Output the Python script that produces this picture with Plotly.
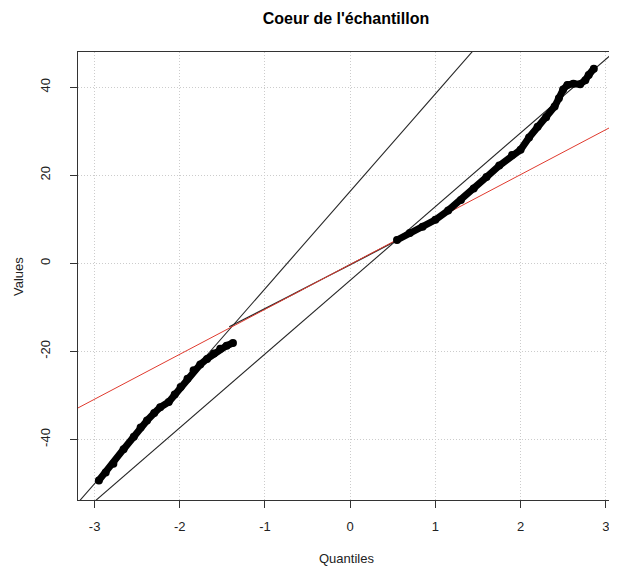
import plotly.graph_objects as go

# --- data ---
lower_q = [-2.95, -2.87, -2.78, -2.66, -2.54, -2.46, -2.385, -2.30, -2.23, -2.13,
           -2.06, -1.99, -1.91, -1.838, -1.76, -1.68, -1.60, -1.525, -1.45, -1.376]
lower_v = [-49.3, -47.5, -45.5, -42.2, -39.4, -37.3, -35.7, -34.0, -32.7, -31.5,
           -29.8, -28.1, -26.2, -24.3, -23.0, -21.7, -20.5, -19.4, -18.7, -18.1]

upper_q = [0.55, 0.70, 0.85, 1.00, 1.15, 1.30, 1.45, 1.60, 1.75, 1.90, 2.00, 2.10,
           2.20, 2.30, 2.40, 2.45, 2.50, 2.55, 2.62, 2.70, 2.76, 2.80, 2.86]
upper_v = [5.3, 6.9, 8.3, 9.9, 12.0, 14.4, 17.0, 19.6, 22.2, 24.6, 25.8, 28.6,
           31.0, 33.2, 35.6, 37.5, 39.5, 40.5, 40.8, 40.7, 41.6, 42.8, 44.2]

middle_q = [-1.42, -1.0, -0.6, -0.2, 0.2, 0.55]
middle_v = [-14.4, -10.3, -6.3, -2.3, 1.7, 5.2]

# reference lines: (intercept, slope)
line_lower = (16.36, 22.13)
line_upper = (-3.86, 16.74)
line_red = (-0.25, 10.2)

x_range = [-3.195, 3.097]
y_range = [-53.75, 48.0]
x_ticks = [-3, -2, -1, 0, 1, 2, 3]
y_ticks = [-40, -20, 0, 20, 40]

title_text = "Coeur de l'échantillon"
x_title = "Quantiles"
y_title = "Values"

# the page body adds an 8px margin; size the figure to fill the remaining window
W, H = 609, 563


def abline(ab):
    a, b = ab
    xs = [x_range[0] - 1, x_range[1] + 1]
    return xs, [a + b * x for x in xs]


fig = go.Figure()

for ab in (line_lower, line_upper):
    xs, ys = abline(ab)
    fig.add_trace(go.Scatter(x=xs, y=ys, mode="lines",
                             line=dict(color="#262626", width=1.1), hoverinfo="skip"))

fig.add_trace(go.Scatter(x=middle_q, y=middle_v, mode="lines",
                         line=dict(color="#2a2a2a", width=1.3, shape="spline"),
                         hoverinfo="skip"))

xs, ys = abline(line_red)
fig.add_trace(go.Scatter(x=xs, y=ys, mode="lines",
                         line=dict(color="#e03a2e", width=1), hoverinfo="skip"))

for q, v in ((lower_q, lower_v), (upper_q, upper_v)):
    fig.add_trace(go.Scatter(x=q, y=v, mode="lines+markers",
                             line=dict(color="black", width=7),
                             marker=dict(color="black", size=8)))

font = "Liberation Sans, Arial, Helvetica, sans-serif"

fig.update_layout(
    width=W, height=H,
    margin=dict(l=70, r=3, t=44, b=71),
    paper_bgcolor="white", plot_bgcolor="white",
    showlegend=False,
    font=dict(family=font, size=13, color="#222222"),
    title=dict(text="<b>" + title_text + "</b>", x=338 / W, xanchor="center",
               xref="container", yref="container", y=1 - 10 / H, yanchor="middle",
               font=dict(size=16, color="black", family=font)),
    annotations=[
        dict(text=x_title, xref="paper", yref="paper", x=0.5, y=-0.13,
             xanchor="center", yanchor="middle", showarrow=False,
             font=dict(size=13, color="#222222")),
        dict(text=y_title, xref="paper", yref="paper", x=-0.112, y=0.5,
             xanchor="center", yanchor="middle", showarrow=False, textangle=-90,
             font=dict(size=13, color="#222222")),
    ],
)

grid_dash = "1px,2px"
fig.update_xaxes(range=x_range, tickvals=x_ticks, ticktext=[str(t) for t in x_ticks],
                 showline=True, linecolor="#333333", linewidth=1, mirror=True,
                 ticks="outside", ticklen=7, tickcolor="#333333",
                 showgrid=True, gridcolor="#cccccc", griddash=grid_dash, gridwidth=1,
                 zeroline=False, ticklabelstandoff=7)
fig.update_yaxes(range=y_range, tickvals=y_ticks, ticktext=[str(t) for t in y_ticks],
                 showline=True, linecolor="#333333", linewidth=1, mirror=True,
                 ticks="outside", ticklen=7, tickcolor="#333333", tickangle=-90,
                 showgrid=True, gridcolor="#cccccc", griddash=grid_dash, gridwidth=1,
                 zeroline=False, ticklabelstandoff=15)

fig.write_html("out.html")
